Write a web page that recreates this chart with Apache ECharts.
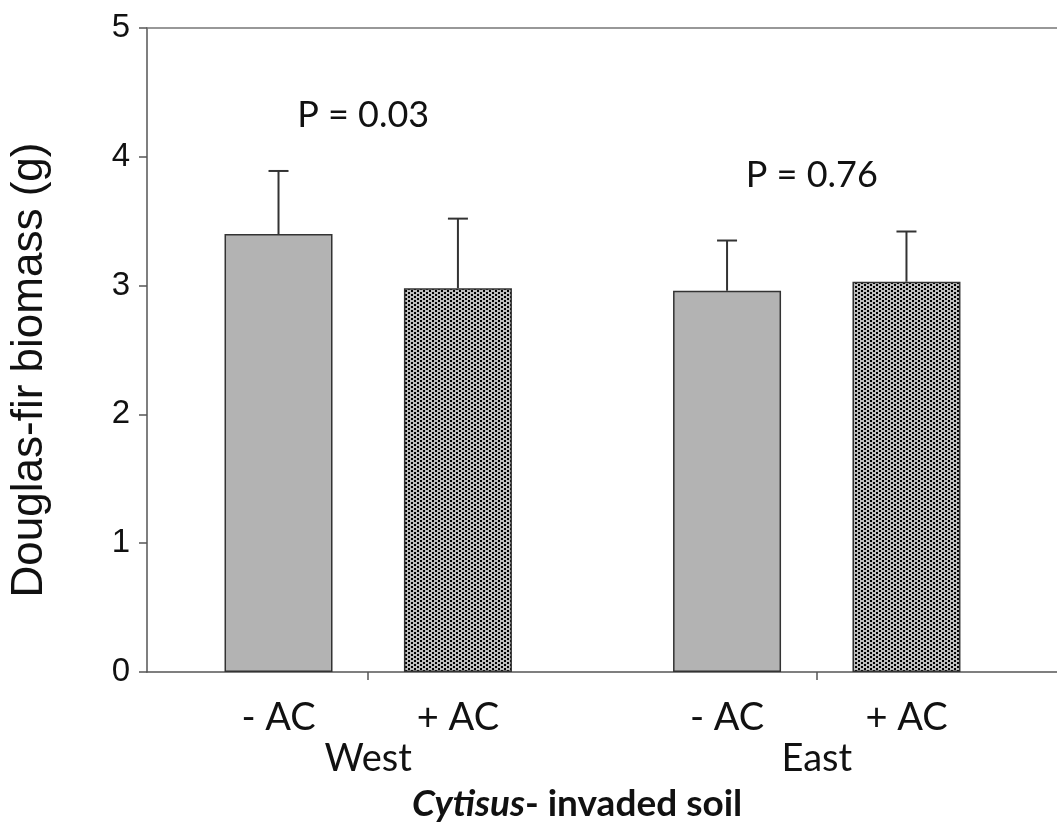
<!DOCTYPE html>
<html>
<head>
<meta charset="utf-8">
<script src="https://cdn.jsdelivr.net/npm/echarts@6/dist/echarts.min.js"></script>
<style>
  html, body { margin: 0; padding: 0; background: #fff; }
  #chart { width: 1057px; height: 831px; }
</style>
</head>
<body>
<div id="chart"></div>
<script>
// data
var groups = ['West', 'East'];
var treatments = ['- AC', '+ AC'];
var meanMinusAC = [3.40, 2.96];
var meanPlusAC = [2.98, 3.03];
var upperMinusAC = [3.89, 3.35];
var upperPlusAC = [3.52, 3.42];
var pLabels = ['P = 0.03', 'P = 0.76'];
var yTicks = [0, 1, 2, 3, 4, 5];

// bar position along the x axis: groups sit 2.5 units apart, bars 1 unit apart
function pos(g, t) {
  return 1 + g * 2.5 + t;
}
function groupCenter(g) {
  return pos(g, 0.5);
}

// stipple fill for the + AC bars
var pat = document.createElement('canvas');
pat.width = 6;
pat.height = 4;
var pc = pat.getContext('2d');
pc.fillStyle = '#bdbdbd';
pc.fillRect(0, 0, 6, 4);
pc.fillStyle = '#000';
pc.fillRect(0, 0, 2, 2);
pc.fillRect(3, 2, 2, 2);

var means = [meanMinusAC, meanPlusAC];
var uppers = [upperMinusAC, upperPlusAC];

var barSeries = treatments.map(function (name, t) {
  return {
    name: name,
    type: 'bar',
    barWidth: 108,
    barGap: '-100%',
    data: groups.map(function (g, i) {
      return [pos(i, t), means[t][i]];
    }),
    itemStyle: {
      color: t === 0 ? '#b3b3b3' : { image: pat, repeat: 'repeat' },
      borderColor: '#333',
      borderWidth: 1.5
    },
    label: {
      show: true,
      position: 'bottom',
      distance: 27,
      formatter: name,
      fontFamily: 'Lato',
      fontSize: 38,
      color: '#111'
    },
    z: 2
  };
});

var errData = [];
treatments.forEach(function (name, t) {
  groups.forEach(function (g, i) {
    errData.push([pos(i, t), means[t][i], uppers[t][i]]);
  });
});

var pData = groups.map(function (g, i) {
  return [groupCenter(i), Math.max(upperMinusAC[i], upperPlusAC[i]), pLabels[i]];
});

var xMin = 0.267, xMax = 5.339;

var myChart = echarts.init(document.getElementById('chart'));
myChart.setOption({
  animation: false,
  title: {
    text: '{i|Cytisus}{b|- invaded soil}',
    left: 407,
    top: 781,
    textStyle: {
      rich: {
        i: { fontFamily: 'Lato', fontSize: 37, fontWeight: 'bold', fontStyle: 'italic', color: '#111' },
        b: { fontFamily: 'Lato', fontSize: 37, fontWeight: 'bold', color: '#111' }
      }
    }
  },
  grid: {
    left: 145,
    right: 0,
    top: 28,
    bottom: 159
  },
  xAxis: [
    {
      type: 'value',
      min: xMin,
      max: xMax,
      splitLine: { show: false },
      axisLine: { show: true, lineStyle: { color: '#555', width: 1.5 } },
      axisTick: {
        show: true,
        length: 8,
        customValues: groups.map(function (g, i) { return groupCenter(i); }),
        lineStyle: { color: '#555', width: 1.5 }
      },
      axisLabel: {
        show: true,
        margin: 68,
        customValues: groups.map(function (g, i) { return groupCenter(i); }),
        formatter: function (v) {
          return groups[Math.round((v - groupCenter(0)) / 2.5)];
        },
        fontFamily: 'Lato',
        fontSize: 38,
        color: '#111'
      }
    },
    {
      // top frame line
      type: 'value',
      position: 'top',
      min: xMin,
      max: xMax,
      splitLine: { show: false },
      axisLine: { show: true, lineStyle: { color: '#777', width: 1.5 } },
      axisTick: { show: false },
      axisLabel: { show: false }
    }
  ],
  yAxis: {
    type: 'value',
    min: yTicks[0],
    max: yTicks[yTicks.length - 1],
    interval: 1,
    name: 'Douglas-fir biomass (g)',
    nameLocation: 'middle',
    nameGap: 95,
    nameTextStyle: { fontFamily: 'Liberation Sans', fontSize: 44, color: '#111', padding: [0, 40, 0, 0] },
    splitLine: { show: false },
    axisLine: { show: true, lineStyle: { color: '#555', width: 1.5 } },
    axisTick: { show: true, length: 8, lineStyle: { color: '#555', width: 1.5 } },
    axisLabel: { margin: 17, fontFamily: 'Liberation Sans', fontSize: 33, color: '#111' }
  },
  series: barSeries.concat([
    {
      type: 'custom',
      name: 'error',
      data: errData,
      z: 3,
      renderItem: function (params, api) {
        var p0 = api.coord([api.value(0), api.value(1)]);
        var p1 = api.coord([api.value(0), api.value(2)]);
        var style = { stroke: '#333', lineWidth: 2 };
        return {
          type: 'group',
          children: [
            { type: 'line', shape: { x1: p0[0], y1: p0[1], x2: p1[0], y2: p1[1] }, style: style },
            { type: 'line', shape: { x1: p1[0] - 10, y1: p1[1], x2: p1[0] + 10, y2: p1[1] }, style: style }
          ]
        };
      }
    },
    {
      type: 'custom',
      name: 'pvalue',
      data: pData,
      z: 4,
      renderItem: function (params, api) {
        var p = api.coord([api.value(0), api.value(1)]);
        return {
          type: 'text',
          x: p[0] - 5,
          y: p[1] - 56,
          style: {
            text: pData[params.dataIndex][2],
            fontFamily: 'Lato',
            fontSize: 36,
            fill: '#111',
            align: 'center',
            verticalAlign: 'middle'
          }
        };
      }
    }
  ])
});
</script>
</body>
</html>
